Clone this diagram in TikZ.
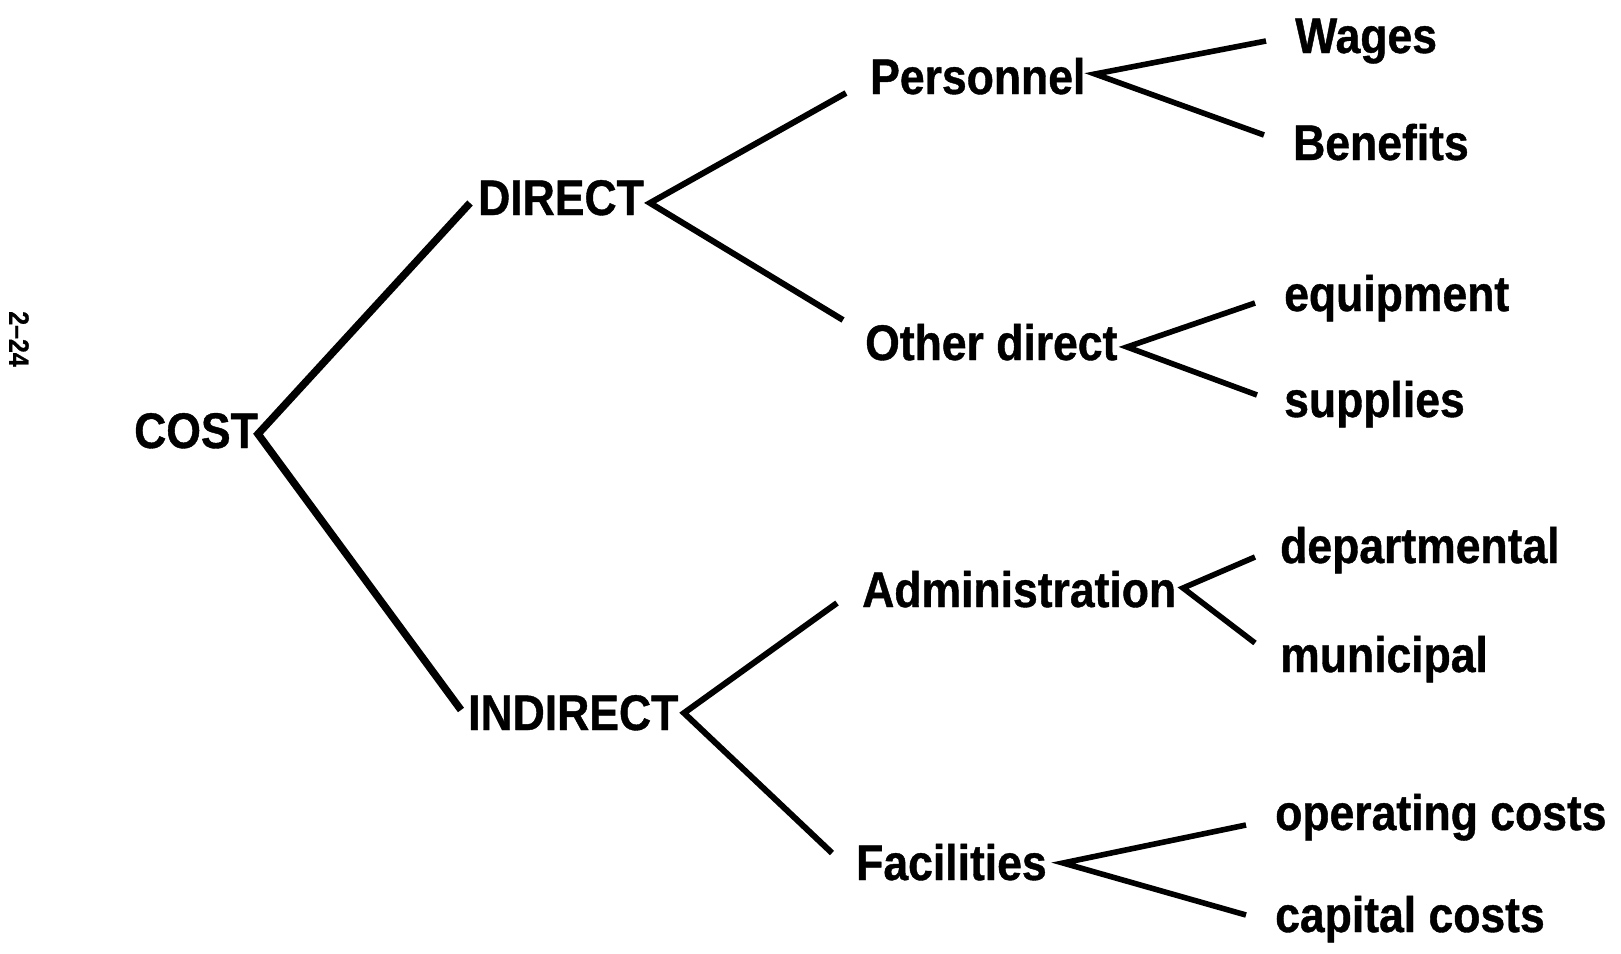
\documentclass[tikz,border=0pt]{standalone}
\usepackage{fontspec}
\setmainfont{Liberation Sans}[FakeStretch=0.89,FakeBold=0.8]
\begin{document}
\begin{tikzpicture}[x=1pt,y=-1pt,
  label/.style={inner sep=0pt,anchor=base west,font=\fontsize{50}{60}\selectfont\bfseries},
  trunk/.style={line width=7.5pt,line join=miter},
  branch/.style={line width=6pt,line join=miter},
  twig/.style={line width=5.6pt,line join=miter}]
\useasboundingbox[fill=white] (0,0) rectangle (1621,953);

% page number, set sideways in the margin
\node[inner sep=0pt,rotate=-90,font=\fontsize{28}{32}\selectfont\bfseries] (pageno) at (19,339) {2--24};

% root
\node[label] (cost) at (134,448) {COST};
% first level
\node[label] (direct) at (478,215) {DIRECT};
\node[label] (indirect) at (468,730) {INDIRECT};
% second level
\node[label] (personnel) at (870,94) {Personnel};
\node[label] (otherdirect) at (865,360) {Other direct};
\node[label] (admin) at (862,607) {Administration};
\node[label] (facilities) at (856,880) {Facilities};
% leaves
\node[label] (wages) at (1295,53) {Wages};
\node[label] (benefits) at (1293,160) {Benefits};
\node[label] (equipment) at (1284,311) {equipment};
\node[label] (supplies) at (1284,417) {supplies};
\node[label] (departmental) at (1280,563) {departmental};
\node[label] (municipal) at (1280,672) {municipal};
\node[label] (operating) at (1275,830) {operating costs};
\node[label] (capital) at (1275,932) {capital costs};

% fork points and line ends
\coordinate (cost-v) at (258,434);
\coordinate (direct-in) at (470,203);
\coordinate (indirect-in) at (461,710);

\coordinate (direct-v) at (650,203);
\coordinate (personnel-in) at (846,93);
\coordinate (otherdirect-in) at (843,320);

\coordinate (indirect-v) at (684,713);
\coordinate (admin-in) at (837,603);
\coordinate (facilities-in) at (832,853);

\coordinate (personnel-v) at (1095,74);
\coordinate (wages-in) at (1266,41);
\coordinate (benefits-in) at (1264,135);

\coordinate (otherdirect-v) at (1127,347);
\coordinate (equipment-in) at (1255,303);
\coordinate (supplies-in) at (1257,395);

\coordinate (admin-v) at (1183,588);
\coordinate (departmental-in) at (1255,557);
\coordinate (municipal-in) at (1255,643);

\coordinate (facilities-v) at (1063,863);
\coordinate (operating-in) at (1246,825);
\coordinate (capital-in) at (1246,915);

% connectors
\draw[trunk] (direct-in) -- (cost-v) -- (indirect-in);
\draw[branch] (personnel-in) -- (direct-v) -- (otherdirect-in);
\draw[branch] (admin-in) -- (indirect-v) -- (facilities-in);
\draw[twig] (wages-in) -- (personnel-v) -- (benefits-in);
\draw[twig] (equipment-in) -- (otherdirect-v) -- (supplies-in);
\draw[twig] (departmental-in) -- (admin-v) -- (municipal-in);
\draw[twig] (operating-in) -- (facilities-v) -- (capital-in);
\end{tikzpicture}
\end{document}
